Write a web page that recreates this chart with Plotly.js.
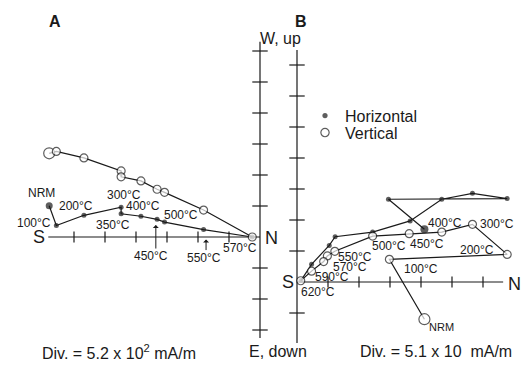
<!DOCTYPE html>
<html><head><meta charset="utf-8">
<script src="https://cdn.plot.ly/plotly-3.0.1.min.js"></script>
<style>html,body{margin:0;padding:0;background:#fff}#chart{width:530px;height:368px}</style>
</head><body><div id="chart"></div>
<script>
// ---------- Panel A (units = divisions; 1 div = 5.2 x 10^2 mA/m) ----------
const stepsA = ['NRM','100°C','200°C','300°C','350°C','400°C','450°C','500°C','550°C','570°C'];
const northA = [-6.80,-6.57,-5.68,-4.48,-4.48,-3.84,-3.32,-3.08,-1.82,-0.25];
const horizA = [1.01,0.37,0.70,0.96,0.75,0.67,0.57,0.48,0.24,0.00];   // filled (E/W)
const vertA  = [2.70,2.76,2.55,2.13,1.94,1.81,1.54,1.44,0.87,0.00];   // open (up/down)
const ticksAx = [-6,-5,-4,-3,-2,-1];
const ticksAy = [-3,-2,-1,1,2,3,4,5,6];

// ---------- Panel B (1 div = 5.1 x 10 mA/m) ----------
const stepsBh = ['NRM','100°C','200°C','300°C','400°C','450°C','500°C','550°C','570°C','590°C','620°C'];
const northBh = [4.11,2.95,6.78,5.66,4.67,3.65,2.44,1.23,1.04,0.47,0.13];
const horizB  = [1.70,2.67,2.69,2.86,2.67,1.97,1.61,1.46,1.18,0.57,0.05];
const stepsBv = ['NRM','100°C','200°C','300°C','400°C','450°C','500°C','550°C','570°C','580°C','590°C','620°C'];
const northBv = [4.11,2.98,6.78,5.66,4.67,3.62,2.44,1.22,0.98,0.86,0.47,0.12];
const vertB   = [-1.20,0.73,0.89,1.86,1.61,1.56,1.48,0.99,0.84,0.66,0.35,0.04];
const ticksBx = [1,2,3,4,5,6];
const ticksBy = [-1,1,2,3,4,5,6,7];

// axis extents (divisions)
const axA = {xmin:-6.83, ymin:-3.26, ymax:6.30};
const axB = {xmax:6.65, ymin:-1.97, ymax:7.48};

const FONT = 'Liberation Sans, Arial, Helvetica, sans-serif';
const INK = '#1a1a1a';
const LW = 1.2;

function line(x,y,xa,ya){return {type:'scatter',mode:'lines',x:x,y:y,xaxis:xa,yaxis:ya,line:{color:INK,width:LW},hoverinfo:'skip',showlegend:false,cliponaxis:false};}
function ticks(x,y,sym,size,xa,ya){return {type:'scatter',mode:'markers',x:x,y:y,xaxis:xa,yaxis:ya,marker:{symbol:sym,size:size,color:INK,line:{color:INK,width:LW}},hoverinfo:'skip',showlegend:false,cliponaxis:false};}
function filled(x,y,names,xa,ya,big,legend){
  return {type:'scatter',mode:'markers',x:x,y:y,text:names,xaxis:xa,yaxis:ya,name:'Horizontal',
    marker:{symbol:'circle',size:x.map((v,i)=>i===0?big:5),color:INK,line:{width:0}},
    showlegend:!!legend,legend:'legend',cliponaxis:false};
}
function open(x,y,names,xa,ya,big,legend){
  return {type:'scatter',mode:'markers',x:x,y:y,text:names,xaxis:xa,yaxis:ya,name:'Vertical',
    marker:{symbol:'circle',size:x.map((v,i)=>i===0?big:8),color:'#fff',line:{color:INK,width:LW}},
    showlegend:!!legend,legend:'legend2',cliponaxis:false};
}

const traces = [
  // Panel A axes
  line([axA.xmin,0],[0,0],'x','y'),
  line([0,0],[axA.ymin,axA.ymax],'x','y'),
  ticks(ticksAx,ticksAx.map(()=>0),'line-ns-open',8,'x','y'),
  ticks(ticksAy.map(()=>0),ticksAy,'line-ew-open',11,'x','y'),
  // Panel B axes
  line([0,axB.xmax],[0,0],'x2','y2'),
  line([0,0],[axB.ymin,axB.ymax],'x2','y2'),
  ticks(ticksBx,ticksBx.map(()=>0),'line-ns-open',8,'x2','y2'),
  ticks(ticksBy.map(()=>0),ticksBy,'line-ew-open',11,'x2','y2'),
  // Panel A data
  line(northA,horizA,'x','y'),
  line(northA,vertA,'x','y'),
  filled(northA,horizA,stepsA,'x','y',7,true),
  open(northA,vertA,stepsA,'x','y',11,true),
  // Panel B data
  line(northBh,horizB,'x2','y2'),
  line(northBv,vertB,'x2','y2'),
  filled(northBh,horizB,stepsBh,'x2','y2',8,false),
  open(northBv,vertB,stepsBv,'x2','y2',11,false)
];

function lab(text,x,y,xa,ya,size){return {text:text,x:x,y:y,xref:xa,yref:ya,showarrow:false,xanchor:'center',yanchor:'middle',font:{family:FONT,size:size||12,color:INK}};}
function plab(text,px,py,size,bold){return {text:bold?'<b>'+text+'</b>':text,x:px/530,y:1-py/368,xref:'paper',yref:'paper',showarrow:false,xanchor:'center',yanchor:'middle',font:{family:FONT,size:size,color:INK}};}
function arrow(x,y0,y1,xa,ya){return {x:x,y:y1,ax:x,ay:y0,xref:xa,yref:ya,axref:xa,ayref:ya,text:'',showarrow:true,arrowhead:1,arrowsize:1,arrowwidth:1,arrowcolor:INK};}

const annotations = [
  // Panel A temperature labels
  lab('NRM',-7.05,1.41,'x','y'),
  lab('100°C',-7.28,0.44,'x','y'),
  lab('200°C',-5.94,1.00,'x','y'),
  lab('300°C',-4.40,1.35,'x','y'),
  lab('400°C',-3.76,1.00,'x','y'),
  lab('350°C',-4.75,0.39,'x','y'),
  lab('500°C',-2.56,0.71,'x','y'),
  lab('450°C',-3.53,-0.60,'x','y'),
  lab('550°C',-1.82,-0.69,'x','y'),
  lab('570°C',-0.64,-0.36,'x','y'),
  lab('S',-7.12,0,'x','y',18),
  lab('N',0.36,-0.03,'x','y',18),
  arrow(-3.36,-0.42,0.39,'x','y'),
  arrow(-1.74,-0.47,-0.08,'x','y'),
  // Panel B temperature labels
  lab('400°C',4.77,1.91,'x2','y2'),
  lab('300°C',6.44,1.86,'x2','y2'),
  lab('500°C',2.96,1.16,'x2','y2'),
  lab('450°C',4.19,1.23,'x2','y2'),
  lab('200°C',5.82,1.03,'x2','y2'),
  lab('550°C',1.87,0.82,'x2','y2'),
  lab('570°C',1.70,0.49,'x2','y2'),
  lab('100°C',3.99,0.41,'x2','y2'),
  lab('590°C',1.12,0.15,'x2','y2'),
  lab('620°C',0.67,-0.31,'x2','y2'),
  lab('NRM',4.66,-1.45,'x2','y2',11),
  lab('S',-0.29,0,'x2','y2',18),
  lab('N',7.03,-0.06,'x2','y2',18),
  // panel letters and axis captions
  plab('A',55,21.7,16,true),
  plab('B',301,21.7,16,true),
  plab('W, up',280,38.3,16),
  plab('E, down',277.5,351.5,16),
  plab('Div. = 5.2 x 10<sup>2</sup> mA/m',119.3,351.5,16),
  plab('Div. = 5.1 x 10\u00a0\u00a0mA/m',436,351.5,16)
];

const hidden = {visible:false,fixedrange:true,autorange:false};
const legendBase = {xanchor:'left',yanchor:'middle',bgcolor:'rgba(0,0,0,0)',borderwidth:0,font:{family:FONT,size:16,color:INK},itemwidth:30};
const layout = {
  width:530,height:368,margin:{l:0,r:0,t:0,b:0},
  paper_bgcolor:'#fff',plot_bgcolor:'rgba(0,0,0,0)',
  xaxis:Object.assign({range:[-260/31,270/31],domain:[0,1]},hidden),
  yaxis:Object.assign({range:[(237-368)/31,237/31],domain:[0,1]},hidden),
  xaxis2:Object.assign({range:[-297/31,233/31],overlaying:'x',anchor:'y2'},hidden),
  yaxis2:Object.assign({range:[(282-368)/31,282/31],overlaying:'y',anchor:'x2'},hidden),
  legend:Object.assign({x:305/530,y:1-115.7/368},legendBase),
  legend2:Object.assign({x:305/530,y:1-132.7/368},legendBase),
  annotations:annotations,
  hovermode:false
};
Plotly.newPlot('chart',traces,layout,{staticPlot:true,displayModeBar:false});
</script>
</body></html>
